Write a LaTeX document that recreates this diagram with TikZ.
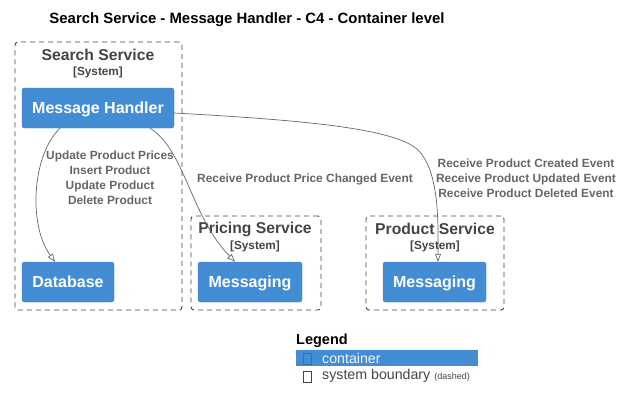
\documentclass[tikz,border=0pt]{standalone}
\usepackage{fontspec}
\setmainfont{Liberation Sans}
\definecolor{ctblue}{HTML}{438DD5}
\definecolor{bndgray}{HTML}{444444}
\definecolor{relgray}{HTML}{666666}
\usetikzlibrary{arrows.meta,positioning}

\begin{document}
\begin{tikzpicture}[x=1pt, y=-1pt,
    container/.style={fill=ctblue, draw=ctblue!85!black, line width=0.4pt, rounded corners=2.5pt,
      text=white, font=\fontsize{16}{19}\selectfont\bfseries, inner sep=0pt, text height=11.5pt, text depth=0pt},
    boundary/.style={draw=bndgray, line width=0.9pt, dash pattern=on 5pt off 4pt, rounded corners=3pt, inner sep=0pt},
    bndtitle/.style={text=bndgray, font=\fontsize{15.7}{18}\selectfont\bfseries, inner sep=0pt},
    bndtag/.style={text=bndgray, font=\fontsize{11.8}{13}\selectfont\bfseries, inner sep=0pt},
    rel/.style={draw=relgray, line width=0.7pt, -{Triangle[open, length=8pt, width=6pt]}},
    rellabel/.style={text=relgray, font=\fontsize{11.9}{15}\selectfont\bfseries, align=center, inner sep=0pt}]
  \useasboundingbox (0,0) rectangle (623,410);
  % Title
  \node[font=\fontsize{14.9}{17}\selectfont\bfseries, inner sep=0pt] (title) at (247,20) {Search Service - Message Handler - C4 - Container level};
  % System boundaries
  \node[boundary, minimum width=167, minimum height=268] (searchb) at (98.5,176) {};
  \node[bndtitle] (searcht) at (98,55) {Search Service};
  \node[bndtag] (searchs) at (98,72) {[System]};
  \node[boundary, minimum width=130, minimum height=94] (pricingb) at (256,263) {};
  \node[bndtitle] (pricingt) at (255,229) {Pricing Service};
  \node[bndtag] (pricings) at (255,246) {[System]};
  \node[boundary, minimum width=138, minimum height=94] (productb) at (435,263) {};
  \node[bndtitle] (productt) at (435,229) {Product Service};
  \node[bndtag] (products) at (435,246) {[System]};
  % Containers
  \node[container, minimum width=152, minimum height=40] (mh) at (98,108) {Message Handler};
  \node[container, minimum width=92, minimum height=40] (db) at (68,282) {Database};
  \node[container, minimum width=104, minimum height=40] (msgpr) at (250,282) {Messaging};
  \node[container, minimum width=103, minimum height=40] (msgpd) at (434.5,282) {Messaging};
  % Relations
  \draw[rel] ([xshift=-38pt]mh.south) .. controls (32,155) and (28,225) .. ([xshift=-13pt]db.north);
  \draw[rel] ([xshift=52pt]mh.south) .. controls (185,150) and (190,215) .. ([xshift=-15pt]msgpr.north);
  \draw[rel] ([yshift=-5pt]mh.east) .. controls (300,120) and (395,128) .. (418,150)
    .. controls (440,172) and (438,225) .. ([xshift=3.5pt]msgpd.north);
  \node[rellabel] (lbldb) at (110,178) {Update Product Prices\\Insert Product\\Update Product\\Delete Product};
  \node[rellabel] (lblpr) at (305,179) {Receive Product Price Changed Event};
  \node[rellabel] (lblpd) at (526,178) {Receive Product Created Event\\Receive Product Updated Event\\Receive Product Deleted Event};
  % Legend
  \node[font=\fontsize{14.5}{17}\selectfont\bfseries, anchor=west, inner sep=0pt] (legend) at (296,341) {Legend};
  \fill[ctblue] (296,350) rectangle (478,366);
  \draw[ctblue!80!black, line width=0.5pt] (303,353) rectangle (311,364);
  \node[anchor=west, text=white!92!ctblue, font=\fontsize{14.2}{16}\selectfont, inner sep=0pt] (legcont) at (322,358) {container};
  \draw[bndgray, line width=0.5pt] (303,371) rectangle (311,382);
  \node[anchor=west, text=bndgray, font=\fontsize{14.2}{16}\selectfont, inner sep=0pt] (legbnd) at (322,376)
    {system boundary {\fontsize{9}{10}\selectfont (dashed)}};
\end{tikzpicture}
\end{document}
